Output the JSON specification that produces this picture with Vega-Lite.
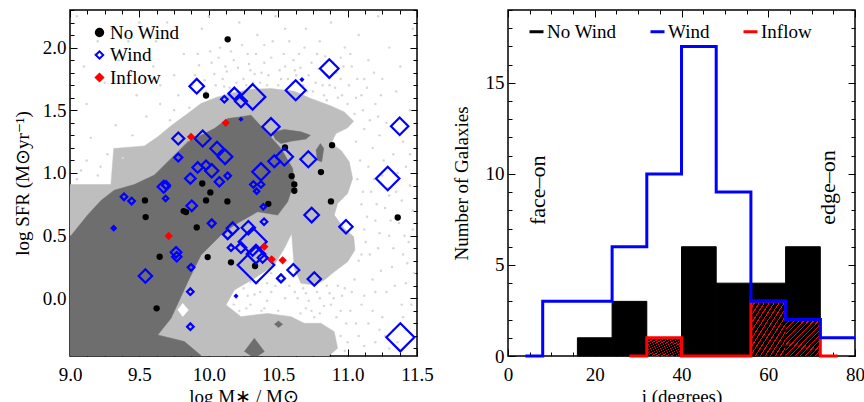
{
  "$schema": "https://vega.github.io/schema/vega-lite/v6.json",
  "autosize": {"type": "pad"},
  "padding": {"left": 12, "top": 8, "right": 0, "bottom": 0},
  "background": "white",
  "spacing": 91,
  "bounds": "flush",
  "resolve": {
    "scale": {"color": "independent", "fill": "independent", "stroke": "independent", "shape": "independent", "size": "independent"},
    "legend": {"color": "independent", "fill": "independent", "stroke": "independent", "shape": "independent"}
  },
  "config": {
    "font": "Liberation Serif",
    "view": {"stroke": "black", "strokeWidth": 1.5},
    "axis": {
      "labelFont": "Liberation Serif", "titleFont": "Liberation Serif",
      "labelFontSize": 19, "titleFontSize": 19, "titleFontWeight": "normal",
      "labelColor": "black", "titleColor": "black", "grid": false, "domain": false,
      "tickColor": "black", "tickWidth": 1, "labelFlush": false, "labelOverlap": false
    },
    "legend": {"labelFont": "Liberation Serif", "labelColor": "black"}
  },
  "datasets": {
    "poly": [
      {"lvl":"light","id":"L","i":1,"x":8.863,"y":0.908},
      {"lvl":"light","id":"L","i":2,"x":9.295,"y":0.908},
      {"lvl":"light","id":"L","i":3,"x":9.315,"y":1.195},
      {"lvl":"light","id":"L","i":4,"x":9.536,"y":1.216},
      {"lvl":"light","id":"L","i":5,"x":9.632,"y":1.288},
      {"lvl":"light","id":"L","i":6,"x":9.728,"y":1.376},
      {"lvl":"light","id":"L","i":7,"x":9.848,"y":1.474},
      {"lvl":"light","id":"L","i":8,"x":9.944,"y":1.554},
      {"lvl":"light","id":"L","i":9,"x":10.064,"y":1.607},
      {"lvl":"light","id":"L","i":10,"x":10.184,"y":1.641},
      {"lvl":"light","id":"L","i":11,"x":10.304,"y":1.668},
      {"lvl":"light","id":"L","i":12,"x":10.448,"y":1.673},
      {"lvl":"light","id":"L","i":13,"x":10.616,"y":1.652},
      {"lvl":"light","id":"L","i":14,"x":10.736,"y":1.594},
      {"lvl":"light","id":"L","i":15,"x":10.880,"y":1.535},
      {"lvl":"light","id":"L","i":16,"x":10.976,"y":1.487},
      {"lvl":"light","id":"L","i":17,"x":11.044,"y":1.413},
      {"lvl":"light","id":"L","i":18,"x":11.000,"y":1.360},
      {"lvl":"light","id":"L","i":19,"x":10.916,"y":1.315},
      {"lvl":"light","id":"L","i":20,"x":10.880,"y":1.235},
      {"lvl":"light","id":"L","i":21,"x":10.952,"y":1.182},
      {"lvl":"light","id":"L","i":22,"x":11.012,"y":1.089},
      {"lvl":"light","id":"L","i":23,"x":11.036,"y":0.956},
      {"lvl":"light","id":"L","i":24,"x":11.000,"y":0.837},
      {"lvl":"light","id":"L","i":25,"x":10.928,"y":0.757},
      {"lvl":"light","id":"L","i":26,"x":10.904,"y":0.664},
      {"lvl":"light","id":"L","i":27,"x":10.976,"y":0.558},
      {"lvl":"light","id":"L","i":28,"x":11.044,"y":0.491},
      {"lvl":"light","id":"L","i":29,"x":11.053,"y":0.385},
      {"lvl":"light","id":"L","i":30,"x":11.000,"y":0.292},
      {"lvl":"light","id":"L","i":31,"x":10.904,"y":0.212},
      {"lvl":"light","id":"L","i":32,"x":10.832,"y":0.146},
      {"lvl":"light","id":"L","i":33,"x":10.760,"y":0.106},
      {"lvl":"light","id":"L","i":34,"x":10.664,"y":0.120},
      {"lvl":"light","id":"L","i":35,"x":10.616,"y":0.239},
      {"lvl":"light","id":"L","i":36,"x":10.597,"y":0.518},
      {"lvl":"light","id":"L","i":37,"x":10.544,"y":0.398},
      {"lvl":"light","id":"L","i":38,"x":10.472,"y":0.266},
      {"lvl":"light","id":"L","i":39,"x":10.328,"y":0.159},
      {"lvl":"light","id":"L","i":40,"x":10.184,"y":0.066},
      {"lvl":"light","id":"L","i":41,"x":10.124,"y":-0.053},
      {"lvl":"light","id":"L","i":42,"x":10.232,"y":-0.146},
      {"lvl":"light","id":"L","i":43,"x":10.424,"y":-0.120},
      {"lvl":"light","id":"L","i":44,"x":10.592,"y":-0.146},
      {"lvl":"light","id":"L","i":45,"x":10.688,"y":-0.199},
      {"lvl":"light","id":"L","i":46,"x":10.808,"y":-0.199},
      {"lvl":"light","id":"L","i":47,"x":10.904,"y":-0.266},
      {"lvl":"light","id":"L","i":48,"x":10.928,"y":-0.398},
      {"lvl":"light","id":"L","i":49,"x":10.868,"y":-0.457},
      {"lvl":"light","id":"L","i":50,"x":10.868,"y":-0.56},
      {"lvl":"light","id":"L","i":51,"x":8.863,"y":-0.56},
      {"lvl":"white","id":"W","i":1,"x":9.776,"y":-0.093},
      {"lvl":"white","id":"W","i":2,"x":9.812,"y":-0.040},
      {"lvl":"white","id":"W","i":3,"x":9.853,"y":-0.093},
      {"lvl":"white","id":"W","i":4,"x":9.812,"y":-0.146},
      {"lvl":"dark","id":"D1","i":1,"x":8.863,"y":0.50},
      {"lvl":"dark","id":"D1","i":2,"x":9.007,"y":0.50},
      {"lvl":"dark","id":"D1","i":3,"x":9.127,"y":0.664},
      {"lvl":"dark","id":"D1","i":4,"x":9.223,"y":0.780},
      {"lvl":"dark","id":"D1","i":5,"x":9.319,"y":0.863},
      {"lvl":"dark","id":"D1","i":6,"x":9.463,"y":0.908},
      {"lvl":"dark","id":"D1","i":7,"x":9.608,"y":0.983},
      {"lvl":"dark","id":"D1","i":8,"x":9.752,"y":1.142},
      {"lvl":"dark","id":"D1","i":9,"x":9.848,"y":1.248},
      {"lvl":"dark","id":"D1","i":10,"x":9.944,"y":1.301},
      {"lvl":"dark","id":"D1","i":11,"x":10.040,"y":1.355},
      {"lvl":"dark","id":"D1","i":12,"x":10.136,"y":1.434},
      {"lvl":"dark","id":"D1","i":13,"x":10.232,"y":1.448},
      {"lvl":"dark","id":"D1","i":14,"x":10.304,"y":1.461},
      {"lvl":"dark","id":"D1","i":15,"x":10.424,"y":1.315},
      {"lvl":"dark","id":"D1","i":16,"x":10.520,"y":1.195},
      {"lvl":"dark","id":"D1","i":17,"x":10.604,"y":1.036},
      {"lvl":"dark","id":"D1","i":18,"x":10.616,"y":0.930},
      {"lvl":"dark","id":"D1","i":19,"x":10.568,"y":0.770},
      {"lvl":"dark","id":"D1","i":20,"x":10.496,"y":0.664},
      {"lvl":"dark","id":"D1","i":21,"x":10.352,"y":0.691},
      {"lvl":"dark","id":"D1","i":22,"x":10.184,"y":0.584},
      {"lvl":"dark","id":"D1","i":23,"x":10.088,"y":0.505},
      {"lvl":"dark","id":"D1","i":24,"x":9.944,"y":0.345},
      {"lvl":"dark","id":"D1","i":25,"x":9.860,"y":0.159},
      {"lvl":"dark","id":"D1","i":26,"x":9.728,"y":-0.159},
      {"lvl":"dark","id":"D1","i":27,"x":9.632,"y":-0.292},
      {"lvl":"dark","id":"D1","i":28,"x":9.824,"y":-0.345},
      {"lvl":"dark","id":"D1","i":29,"x":9.944,"y":-0.457},
      {"lvl":"dark","id":"D1","i":30,"x":9.944,"y":-0.56},
      {"lvl":"dark","id":"D1","i":31,"x":8.863,"y":-0.56},
      {"lvl":"dark","id":"D2","i":1,"x":10.453,"y":1.323},
      {"lvl":"dark","id":"D2","i":2,"x":10.544,"y":1.347},
      {"lvl":"dark","id":"D2","i":3,"x":10.664,"y":1.328},
      {"lvl":"dark","id":"D2","i":4,"x":10.732,"y":1.301},
      {"lvl":"dark","id":"D2","i":5,"x":10.700,"y":1.270},
      {"lvl":"dark","id":"D2","i":6,"x":10.592,"y":1.254},
      {"lvl":"dark","id":"D2","i":7,"x":10.520,"y":1.235},
      {"lvl":"dark","id":"D2","i":8,"x":10.477,"y":1.270},
      {"lvl":"dark","id":"D3","i":1,"x":10.772,"y":1.182},
      {"lvl":"dark","id":"D3","i":2,"x":10.804,"y":1.235},
      {"lvl":"dark","id":"D3","i":3,"x":10.828,"y":1.195},
      {"lvl":"dark","id":"D3","i":4,"x":10.813,"y":1.089},
      {"lvl":"dark","id":"D3","i":5,"x":10.780,"y":1.102},
      {"lvl":"dark","id":"D4","i":1,"x":10.256,"y":-0.425},
      {"lvl":"dark","id":"D4","i":2,"x":10.328,"y":-0.319},
      {"lvl":"dark","id":"D4","i":3,"x":10.400,"y":-0.425},
      {"lvl":"dark","id":"D4","i":4,"x":10.328,"y":-0.478},
      {"lvl":"dark","id":"D5","i":1,"x":10.472,"y":-0.207},
      {"lvl":"dark","id":"D5","i":2,"x":10.501,"y":-0.181},
      {"lvl":"dark","id":"D5","i":3,"x":10.532,"y":-0.207},
      {"lvl":"dark","id":"D5","i":4,"x":10.501,"y":-0.234}
    ],
    "sample": [
      {"x":9.05,"y":2.25},{"x":9.18,"y":1.95},{"x":9.12,"y":1.55},{"x":9.25,"y":1.72},{"x":9.33,"y":1.38},
      {"x":9.42,"y":2.05},{"x":9.48,"y":1.62},{"x":9.55,"y":1.45},{"x":9.38,"y":1.12},{"x":9.22,"y":1.05},
      {"x":9.08,"y":1.02},{"x":9.15,"y":1.28},{"x":9.6,"y":1.85},{"x":9.65,"y":1.55},{"x":9.7,"y":2.2},
      {"x":9.72,"y":1.42},{"x":9.78,"y":1.62},{"x":9.82,"y":1.95},{"x":9.86,"y":1.52},{"x":9.9,"y":1.78},
      {"x":9.95,"y":2.15},{"x":9.98,"y":1.65},{"x":10.02,"y":1.88},{"x":10.05,"y":1.7},{"x":10.08,"y":2.0},
      {"x":10.1,"y":1.75},{"x":10.15,"y":1.68},{"x":10.18,"y":1.9},{"x":10.22,"y":2.2},{"x":10.25,"y":1.75},
      {"x":10.28,"y":1.95},{"x":10.32,"y":1.72},{"x":10.35,"y":2.1},{"x":10.38,"y":1.8},{"x":10.42,"y":1.7},
      {"x":10.45,"y":1.92},{"x":10.48,"y":2.25},{"x":10.52,"y":1.75},{"x":10.55,"y":1.85},{"x":10.58,"y":2.05},
      {"x":10.6,"y":1.72},{"x":10.65,"y":1.95},{"x":10.68,"y":1.7},{"x":10.7,"y":2.15},{"x":10.72,"y":1.78},
      {"x":10.75,"y":1.65},{"x":10.78,"y":1.95},{"x":10.8,"y":2.05},{"x":10.82,"y":1.7},{"x":10.85,"y":1.58},
      {"x":10.88,"y":2.2},{"x":10.9,"y":1.88},{"x":10.93,"y":1.6},{"x":10.95,"y":1.75},{"x":10.98,"y":2.0},
      {"x":11.0,"y":1.55},{"x":11.03,"y":1.85},{"x":11.05,"y":1.47},{"x":11.08,"y":2.1},{"x":11.1,"y":1.62},
      {"x":11.12,"y":1.35},{"x":11.15,"y":1.9},{"x":11.18,"y":1.2},{"x":11.2,"y":1.55},{"x":11.22,"y":2.25},
      {"x":11.25,"y":1.75},{"x":11.28,"y":1.4},{"x":11.3,"y":2.0},{"x":11.33,"y":1.15},{"x":11.35,"y":1.65},
      {"x":11.38,"y":1.85},{"x":11.42,"y":1.05},{"x":11.45,"y":1.5},{"x":11.47,"y":2.15},
      {"x":11.07,"y":0.95},{"x":11.1,"y":0.75},{"x":11.12,"y":0.55},{"x":11.08,"y":0.3},{"x":11.15,"y":1.05},
      {"x":11.17,"y":0.85},{"x":11.2,"y":0.62},{"x":11.22,"y":0.4},{"x":11.18,"y":0.15},{"x":11.25,"y":0.98},
      {"x":11.27,"y":0.72},{"x":11.3,"y":0.5},{"x":11.32,"y":0.25},{"x":11.28,"y":0.05},{"x":11.35,"y":0.85},
      {"x":11.37,"y":0.6},{"x":11.4,"y":0.35},{"x":11.42,"y":0.12},{"x":11.45,"y":0.9},{"x":11.47,"y":0.7},
      {"x":11.44,"y":0.45},{"x":11.48,"y":0.2},{"x":11.1,"y":-0.05},{"x":11.15,"y":-0.2},{"x":11.2,"y":-0.35},
      {"x":11.25,"y":-0.15},{"x":11.3,"y":-0.4},{"x":11.13,"y":0.45},{"x":11.05,"y":0.15},{"x":11.02,"y":-0.1},
      {"x":11.08,"y":-0.3},{"x":11.46,"y":-0.05},{"x":11.33,"y":-0.25},{"x":11.12,"y":0.02},
      {"x":10.62,"y":0.05},{"x":10.68,"y":0.08},{"x":10.72,"y":-0.02},{"x":10.78,"y":0.05},{"x":10.85,"y":0.1},
      {"x":10.9,"y":0.0},{"x":10.95,"y":-0.1},{"x":10.98,"y":0.08},{"x":10.95,"y":-0.3},{"x":10.98,"y":-0.42},
      {"x":10.2,"y":0.0},{"x":10.25,"y":0.08},{"x":10.3,"y":-0.05},{"x":10.35,"y":0.12},{"x":10.4,"y":-0.08},
      {"x":10.45,"y":0.05},{"x":10.5,"y":-0.1},{"x":10.55,"y":0.0},{"x":10.58,"y":0.1},{"x":10.52,"y":0.15},
      {"x":10.45,"y":0.2},{"x":10.3,"y":0.13},{"x":10.22,"y":-0.1},{"x":10.38,"y":-0.1},
      {"x":9.05,"y":0.95},{"x":9.12,"y":1.1},{"x":9.2,"y":0.98},{"x":9.27,"y":1.15},
      {"x":9.1,"y":1.85},{"x":9.3,"y":2.15},{"x":9.52,"y":1.78},{"x":9.62,"y":2.05},{"x":9.75,"y":1.78},
      {"x":9.92,"y":1.95},{"x":10.0,"y":2.25},{"x":10.12,"y":1.85},{"x":10.3,"y":1.82},{"x":10.4,"y":2.02},
      {"x":10.55,"y":2.15},{"x":10.62,"y":1.82},{"x":10.85,"y":1.78},{"x":10.95,"y":1.92},{"x":11.12,"y":1.75},
      {"x":11.22,"y":1.45},{"x":11.4,"y":1.25},{"x":11.3,"y":0.82},{"x":11.4,"y":-0.15},{"x":11.2,"y":0.05},
      {"x":10.7,"y":-0.08},{"x":10.88,"y":-0.05},{"x":10.8,"y":-0.12},{"x":10.28,"y":0.02},{"x":10.42,"y":0.12},
      {"x":9.88,"y":1.70},{"x":9.93,"y":1.86},{"x":9.97,"y":1.74},{"x":10.01,"y":1.97},{"x":10.04,"y":1.79},
      {"x":10.07,"y":1.92},{"x":10.11,"y":1.69},{"x":10.13,"y":1.81},{"x":10.16,"y":1.97},{"x":10.2,"y":1.72},
      {"x":10.21,"y":1.84},{"x":10.24,"y":2.02},{"x":10.27,"y":1.7},{"x":10.29,"y":1.87},{"x":10.33,"y":1.79},
      {"x":10.34,"y":1.95},{"x":10.37,"y":1.72},{"x":10.4,"y":1.88},{"x":10.43,"y":1.78},{"x":10.46,"y":2.05},
      {"x":10.5,"y":1.7},{"x":10.51,"y":1.82},{"x":10.54,"y":1.95},{"x":10.57,"y":1.75},{"x":10.61,"y":1.9},
      {"x":10.63,"y":1.78},{"x":10.66,"y":1.84},{"x":10.69,"y":2.0},{"x":10.71,"y":1.65},{"x":10.74,"y":1.88},
      {"x":10.77,"y":1.72},{"x":10.79,"y":1.83},{"x":10.83,"y":1.62},{"x":10.84,"y":1.93},{"x":10.87,"y":1.7},
      {"x":10.91,"y":1.68},{"x":10.92,"y":1.8},{"x":10.96,"y":1.62},{"x":10.97,"y":1.85},{"x":11.01,"y":1.7},
      {"x":11.02,"y":1.95},{"x":11.06,"y":1.6},{"x":11.07,"y":1.75},{"x":11.11,"y":1.5},{"x":11.14,"y":1.68},
      {"x":11.16,"y":1.42},{"x":11.19,"y":1.8},{"x":11.23,"y":1.3},{"x":11.24,"y":1.62},
      {"x":11.06,"y":1.25},{"x":11.09,"y":1.1},{"x":11.11,"y":0.85},{"x":11.14,"y":0.65},{"x":11.16,"y":0.35},
      {"x":11.19,"y":0.95},{"x":11.21,"y":0.75},{"x":11.23,"y":0.52},{"x":11.24,"y":0.22},{"x":11.26,"y":1.1},
      {"x":11.29,"y":0.88},{"x":11.31,"y":0.62},{"x":11.33,"y":0.4},{"x":11.34,"y":0.1},{"x":11.36,"y":1.0},
      {"x":11.39,"y":0.78},{"x":11.41,"y":0.5},{"x":11.43,"y":0.28},{"x":11.45,"y":1.15},{"x":11.47,"y":0.55},
      {"x":11.39,"y":-0.05},{"x":11.36,"y":-0.35},{"x":11.23,"y":-0.25},{"x":11.18,"y":-0.1},{"x":11.12,"y":-0.38},
      {"x":11.06,"y":-0.2},{"x":11.03,"y":0.05},{"x":11.27,"y":-0.3},{"x":11.42,"y":-0.25},{"x":11.1,"y":0.35},
      {"x":10.64,"y":0.0},{"x":10.7,"y":0.04},{"x":10.74,"y":-0.1},{"x":10.8,"y":0.0},{"x":10.83,"y":-0.06},
      {"x":10.87,"y":0.04},{"x":10.92,"y":-0.15},{"x":10.96,"y":0.02},{"x":10.99,"y":-0.2},{"x":11.0,"y":-0.35},
      {"x":10.93,"y":0.1},{"x":10.66,"y":-0.12},{"x":10.76,"y":-0.15},
      {"x":10.18,"y":-0.05},{"x":10.27,"y":-0.08},{"x":10.33,"y":0.03},{"x":10.42,"y":-0.02},{"x":10.48,"y":0.1},
      {"x":10.37,"y":0.05},
      {"x":9.35,"y":1.9},{"x":9.5,"y":2.2},{"x":9.2,"y":2.05},{"x":9.65,"y":1.7},{"x":9.45,"y":1.3},{"x":9.75,"y":1.5}
    ],
    "galaxies": [
      {"type":"No Wind","x":10.136,"y":2.066},{"type":"No Wind","x":9.980,"y":1.618},
      {"type":"No Wind","x":10.549,"y":1.203},{"type":"No Wind","x":10.888,"y":1.222},
      {"type":"No Wind","x":10.808,"y":1.007},{"type":"No Wind","x":10.597,"y":0.975},
      {"type":"No Wind","x":10.616,"y":0.908},{"type":"No Wind","x":10.616,"y":0.858},
      {"type":"No Wind","x":10.880,"y":0.773},{"type":"No Wind","x":11.361,"y":0.645},
      {"type":"No Wind","x":10.429,"y":0.754},{"type":"No Wind","x":9.953,"y":0.916},
      {"type":"No Wind","x":10.011,"y":0.845},{"type":"No Wind","x":9.980,"y":0.781},
      {"type":"No Wind","x":10.134,"y":0.773},{"type":"No Wind","x":9.540,"y":0.781},
      {"type":"No Wind","x":9.545,"y":0.648},{"type":"No Wind","x":9.819,"y":0.696},
      {"type":"No Wind","x":9.836,"y":0.688},{"type":"No Wind","x":9.913,"y":0.566},
      {"type":"No Wind","x":9.646,"y":0.332},{"type":"No Wind","x":9.992,"y":0.329},
      {"type":"No Wind","x":10.160,"y":0.287},{"type":"No Wind","x":10.333,"y":0.258},
      {"type":"No Wind","x":9.624,"y":-0.080},
      {"type":"Wind","x":9.913,"y":1.692,"ew":7.3},{"type":"Wind","x":10.868,"y":1.833,"ew":9.3},
      {"type":"Wind","x":11.375,"y":1.373,"ew":8.7},{"type":"Wind","x":11.289,"y":0.956,"ew":11.7},
      {"type":"Wind","x":11.380,"y":-0.311,"ew":14},{"type":"Wind","x":10.626,"y":1.660,"ew":10},
      {"type":"Wind","x":10.316,"y":1.607,"ew":12.7},{"type":"Wind","x":10.184,"y":1.633,"ew":6},
      {"type":"Wind","x":10.232,"y":1.572,"ew":6},{"type":"Wind","x":10.112,"y":1.588,"ew":3.3},
      {"type":"Wind","x":10.448,"y":1.368,"ew":8.7},{"type":"Wind","x":9.780,"y":1.275,"ew":6},
      {"type":"Wind","x":9.956,"y":1.275,"ew":8},{"type":"Wind","x":10.059,"y":1.195,"ew":6.7},
      {"type":"Wind","x":10.117,"y":1.129,"ew":7.3},{"type":"Wind","x":9.780,"y":1.123,"ew":4},
      {"type":"Wind","x":9.920,"y":1.044,"ew":5.3},{"type":"Wind","x":9.980,"y":1.062,"ew":4.7},
      {"type":"Wind","x":10.021,"y":1.017,"ew":6.7},{"type":"Wind","x":9.867,"y":0.956,"ew":5.3},
      {"type":"Wind","x":10.076,"y":0.930,"ew":4.7},{"type":"Wind","x":10.136,"y":0.977,"ew":3.3},
      {"type":"Wind","x":10.376,"y":1.009,"ew":8.7},{"type":"Wind","x":10.472,"y":1.094,"ew":6},
      {"type":"Wind","x":10.544,"y":1.129,"ew":8.7},{"type":"Wind","x":10.717,"y":1.110,"ew":8},
      {"type":"Wind","x":9.675,"y":0.890,"ew":6},{"type":"Wind","x":9.692,"y":0.903,"ew":4},
      {"type":"Wind","x":9.689,"y":0.797,"ew":2.7},{"type":"Wind","x":9.389,"y":0.810,"ew":3.3},
      {"type":"Wind","x":9.444,"y":0.776,"ew":3.3},{"type":"Wind","x":9.877,"y":0.738,"ew":5.3},
      {"type":"Wind","x":10.321,"y":0.908,"ew":3.3},{"type":"Wind","x":10.376,"y":0.908,"ew":3.3},
      {"type":"Wind","x":10.345,"y":0.855,"ew":2.7},{"type":"Wind","x":10.393,"y":0.730,"ew":2.7},
      {"type":"Wind","x":10.398,"y":0.611,"ew":3.3},{"type":"Wind","x":10.021,"y":0.598,"ew":4},
      {"type":"Wind","x":10.741,"y":0.664,"ew":7.3},{"type":"Wind","x":10.988,"y":0.571,"ew":6.7},
      {"type":"Wind","x":9.315,"y":0.560,"ew":2},{"type":"Wind","x":10.172,"y":0.558,"ew":6},
      {"type":"Wind","x":10.136,"y":0.510,"ew":4.7},{"type":"Wind","x":10.285,"y":0.563,"ew":6.7},
      {"type":"Wind","x":10.160,"y":0.404,"ew":3.3},{"type":"Wind","x":10.232,"y":0.404,"ew":5.3},
      {"type":"Wind","x":10.316,"y":0.452,"ew":14},{"type":"Wind","x":10.340,"y":0.353,"ew":9.3},
      {"type":"Wind","x":10.388,"y":0.324,"ew":5},{"type":"Wind","x":10.340,"y":0.266,"ew":18.3},
      {"type":"Wind","x":10.609,"y":0.226,"ew":6},{"type":"Wind","x":10.520,"y":0.159,"ew":4},
      {"type":"Wind","x":10.760,"y":0.154,"ew":6.7},{"type":"Wind","x":9.764,"y":0.367,"ew":5.3},
      {"type":"Wind","x":9.769,"y":0.332,"ew":4.7},{"type":"Wind","x":9.543,"y":0.178,"ew":6.7},
      {"type":"Wind","x":9.872,"y":0.247,"ew":3.3},{"type":"Wind","x":9.867,"y":0.053,"ew":3.3},
      {"type":"Wind","x":9.867,"y":-0.226,"ew":3.3},{"type":"Wind","x":10.232,"y":1.429,"ew":1},
      {"type":"Wind","x":10.196,"y":0.019,"ew":1},{"type":"Wind","x":10.671,"y":1.745,"ew":1},
      {"type":"Inflow","x":9.872,"y":1.288},{"type":"Inflow","x":10.122,"y":1.400},
      {"type":"Inflow","x":9.711,"y":0.497},{"type":"Inflow","x":10.400,"y":0.412},
      {"type":"Inflow","x":10.453,"y":0.311},{"type":"Inflow","x":10.532,"y":0.303}
    ],
    "nowind_hist": [
      {"b0":16,"b1":24,"n":1},{"b0":24,"b1":32,"n":3},{"b0":40,"b1":48,"n":6},
      {"b0":48,"b1":56,"n":4},{"b0":56,"b1":64,"n":4},{"b0":64,"b1":72,"n":6}
    ],
    "inflow_hist": [
      {"b0":32,"b1":40,"n":1},{"b0":56,"b1":64,"n":3},{"b0":64,"b1":72,"n":2}
    ],
    "steps": [
      {"series":"Inflow","k":1,"x":28,"y":0},{"series":"Inflow","k":2,"x":32,"y":1},
      {"series":"Inflow","k":3,"x":40,"y":0},{"series":"Inflow","k":4,"x":56,"y":3},
      {"series":"Inflow","k":5,"x":64,"y":2},{"series":"Inflow","k":6,"x":72,"y":0},
      {"series":"Inflow","k":7,"x":76,"y":0},
      {"series":"Wind","k":1,"x":4,"y":0},{"series":"Wind","k":2,"x":8,"y":3},
      {"series":"Wind","k":3,"x":16,"y":3},{"series":"Wind","k":4,"x":24,"y":6},
      {"series":"Wind","k":5,"x":32,"y":10},{"series":"Wind","k":6,"x":40,"y":17},
      {"series":"Wind","k":7,"x":48,"y":9},{"series":"Wind","k":8,"x":56,"y":3},
      {"series":"Wind","k":9,"x":64,"y":2},{"series":"Wind","k":10,"x":72,"y":1},
      {"series":"Wind","k":11,"x":80,"y":1}
    ],
    "notes": [
      {"t":"face–on","x":6.9,"y":9.1},
      {"t":"edge–on","x":73.8,"y":9.25}
    ]
  },
  "hconcat": [
    {
      "width": 347,
      "height": 346,
      "resolve": {"axis": {"x": "independent", "y": "independent"}},
      "layer": [
        {
          "data": {"name": "poly"},
          "transform": [{"filter": "datum.lvl === 'light'"}],
          "mark": {"type": "line", "clip": true, "color": "#bebebe", "fill": "#bebebe", "strokeWidth": 0.5},
          "encoding": {
            "x": {"field": "x", "type": "quantitative",
              "scale": {"domain": [9, 11.5], "nice": false, "zero": false},
              "axis": {"orient": "bottom", "values": [9, 9.5, 10, 10.5, 11, 11.5], "format": ".1f", "ticks": false, "labelPadding": 9, "title": "log M∗ / M⊙", "titlePadding": 3}},
            "y": {"field": "y", "type": "quantitative",
              "scale": {"domain": [-0.46, 2.3], "nice": false, "zero": false},
              "axis": {"orient": "left", "values": [0, 0.5, 1, 1.5, 2], "format": ".1f", "ticks": false, "labelPadding": 4, "title": "log SFR (M⊙yr⁻¹)", "titlePadding": 10}},
            "detail": {"field": "id"},
            "order": {"field": "i", "type": "quantitative"}
          }
        },
        {
          "data": {"name": "poly"},
          "transform": [{"filter": "datum.lvl === 'white'"}],
          "mark": {"type": "line", "clip": true, "color": "#ffffff", "fill": "#ffffff", "strokeWidth": 0.5},
          "encoding": {
            "x": {"field": "x", "type": "quantitative", "scale": {"domain": [9, 11.5], "nice": false, "zero": false}, "axis": null},
            "y": {"field": "y", "type": "quantitative", "scale": {"domain": [-0.46, 2.3], "nice": false, "zero": false}, "axis": null},
            "detail": {"field": "id"},
            "order": {"field": "i", "type": "quantitative"}
          }
        },
        {
          "data": {"name": "poly"},
          "transform": [{"filter": "datum.lvl === 'dark'"}],
          "mark": {"type": "line", "clip": true, "color": "#6e6e6e", "fill": "#6e6e6e", "strokeWidth": 0.5},
          "encoding": {
            "x": {"field": "x", "type": "quantitative",
              "scale": {"domain": [9, 11.5], "nice": false, "zero": false},
              "axis": {"orient": "bottom", "labels": false, "title": null,
                "values": [9, 9.125, 9.25, 9.375, 9.5, 9.625, 9.75, 9.875, 10, 10.125, 10.25, 10.375, 10.5, 10.625, 10.75, 10.875, 11, 11.125, 11.25, 11.375, 11.5],
                "tickSize": {"condition": {"test": "abs(datum.value*2-round(datum.value*2))<0.000001", "value": -7}, "value": -4}}},
            "y": {"field": "y", "type": "quantitative",
              "scale": {"domain": [-0.46, 2.3], "nice": false, "zero": false},
              "axis": {"orient": "left", "labels": false, "title": null,
                "values": [-0.4, -0.3, -0.2, -0.1, 0, 0.1, 0.2, 0.3, 0.4, 0.5, 0.6, 0.7, 0.8, 0.9, 1, 1.1, 1.2, 1.3, 1.4, 1.5, 1.6, 1.7, 1.8, 1.9, 2, 2.1, 2.2, 2.3],
                "tickSize": {"condition": {"test": "abs(datum.value*2-round(datum.value*2))<0.000001", "value": -7}, "value": -4}}},
            "detail": {"field": "id"},
            "order": {"field": "i", "type": "quantitative"}
          }
        },
        {
          "data": {"name": "sample"},
          "mark": {"type": "circle", "color": "#d6d6d6", "size": 6, "opacity": 1},
          "encoding": {
            "x": {"field": "x", "type": "quantitative",
              "scale": {"domain": [9, 11.5], "nice": false, "zero": false},
              "axis": {"orient": "top", "labels": false, "title": null,
                "values": [9, 9.125, 9.25, 9.375, 9.5, 9.625, 9.75, 9.875, 10, 10.125, 10.25, 10.375, 10.5, 10.625, 10.75, 10.875, 11, 11.125, 11.25, 11.375, 11.5],
                "tickSize": {"condition": {"test": "abs(datum.value*2-round(datum.value*2))<0.000001", "value": -7}, "value": -4}}},
            "y": {"field": "y", "type": "quantitative",
              "scale": {"domain": [-0.46, 2.3], "nice": false, "zero": false},
              "axis": {"orient": "right", "labels": false, "title": null,
                "values": [-0.4, -0.3, -0.2, -0.1, 0, 0.1, 0.2, 0.3, 0.4, 0.5, 0.6, 0.7, 0.8, 0.9, 1, 1.1, 1.2, 1.3, 1.4, 1.5, 1.6, 1.7, 1.8, 1.9, 2, 2.1, 2.2, 2.3],
                "tickSize": {"condition": {"test": "abs(datum.value*2-round(datum.value*2))<0.000001", "value": -7}, "value": -4}}}
          }
        },
        {
          "data": {"name": "galaxies"},
          "transform": [{"filter": "datum.type === 'No Wind'"}],
          "mark": {"type": "point", "size": 40, "strokeWidth": 0, "opacity": 1},
          "encoding": {
            "x": {"field": "x", "type": "quantitative", "scale": {"domain": [9, 11.5], "nice": false, "zero": false}, "axis": null},
            "y": {"field": "y", "type": "quantitative", "scale": {"domain": [-0.46, 2.3], "nice": false, "zero": false}, "axis": null},
            "shape": {"field": "type", "type": "nominal", "scale": {"domain": ["No Wind", "Wind", "Inflow"], "range": ["circle", "diamond", "diamond"]},
              "legend": {"orient": "none", "legendX": 20, "legendY": 13, "title": null, "labelFontSize": 19, "symbolSize": 55, "symbolStrokeWidth": 2, "rowPadding": 2.5, "labelOffset": 1, "padding": 0}},
            "fill": {"field": "type", "type": "nominal", "scale": {"domain": ["No Wind", "Wind", "Inflow"], "range": ["black", "transparent", "red"]},
              "legend": {"orient": "none", "legendX": 20, "legendY": 13, "title": null, "labelFontSize": 19, "symbolSize": 55, "symbolStrokeWidth": 2, "rowPadding": 2.5, "labelOffset": 1, "padding": 0}},
            "stroke": {"field": "type", "type": "nominal", "scale": {"domain": ["No Wind", "Wind", "Inflow"], "range": ["black", "blue", "red"]},
              "legend": {"orient": "none", "legendX": 20, "legendY": 13, "title": null, "labelFontSize": 19, "symbolSize": 55, "symbolStrokeWidth": 2, "rowPadding": 2.5, "labelOffset": 1, "padding": 0}}
          }
        },
        {
          "data": {"name": "galaxies"},
          "transform": [{"filter": "datum.type === 'Wind'"}],
          "mark": {"type": "point", "strokeWidth": 2.2, "opacity": 1},
          "encoding": {
            "x": {"field": "x", "type": "quantitative", "scale": {"domain": [9, 11.5], "nice": false, "zero": false}, "axis": null},
            "y": {"field": "y", "type": "quantitative", "scale": {"domain": [-0.46, 2.3], "nice": false, "zero": false}, "axis": null},
            "size": {"field": "ew", "type": "quantitative", "scale": {"type": "pow", "exponent": 2, "domain": [0, 20], "range": [0, 1600]}, "legend": null},
            "shape": {"field": "type", "type": "nominal", "scale": {"domain": ["No Wind", "Wind", "Inflow"], "range": ["circle", "diamond", "diamond"]}},
            "fill": {"field": "type", "type": "nominal", "scale": {"domain": ["No Wind", "Wind", "Inflow"], "range": ["black", "transparent", "red"]}},
            "stroke": {"field": "type", "type": "nominal", "scale": {"domain": ["No Wind", "Wind", "Inflow"], "range": ["black", "blue", "red"]}}
          }
        },
        {
          "data": {"name": "galaxies"},
          "transform": [{"filter": "datum.type === 'Inflow'"}],
          "mark": {"type": "point", "size": 70, "strokeWidth": 0, "opacity": 1},
          "encoding": {
            "x": {"field": "x", "type": "quantitative", "scale": {"domain": [9, 11.5], "nice": false, "zero": false}, "axis": null},
            "y": {"field": "y", "type": "quantitative", "scale": {"domain": [-0.46, 2.3], "nice": false, "zero": false}, "axis": null},
            "shape": {"field": "type", "type": "nominal", "scale": {"domain": ["No Wind", "Wind", "Inflow"], "range": ["circle", "diamond", "diamond"]}},
            "fill": {"field": "type", "type": "nominal", "scale": {"domain": ["No Wind", "Wind", "Inflow"], "range": ["black", "transparent", "red"]}},
            "stroke": {"field": "type", "type": "nominal", "scale": {"domain": ["No Wind", "Wind", "Inflow"], "range": ["black", "blue", "red"]}}
          }
        }
      ]
    },
    {
      "width": 347,
      "height": 346,
      "resolve": {"axis": {"x": "independent", "y": "independent"}},
      "layer": [
        {
          "data": {"name": "nowind_hist"},
          "mark": {"type": "rect", "color": "black", "stroke": "black", "strokeWidth": 1},
          "encoding": {
            "x": {"field": "b0", "type": "quantitative", "scale": {"domain": [0, 80], "nice": false},
              "axis": {"orient": "bottom", "values": [0, 20, 40, 60, 80], "ticks": false, "labelPadding": 9, "title": "i (degrees)", "titlePadding": 3}},
            "x2": {"field": "b1"},
            "y": {"field": "n", "type": "quantitative", "scale": {"domain": [0, 19], "nice": false},
              "axis": {"orient": "left", "values": [0, 5, 10, 15], "ticks": false, "labelPadding": 4, "title": "Number of Galaxies", "titlePadding": 14}},
            "y2": {"datum": 0}
          }
        },
        {
          "data": {"name": "inflow_hist"},
          "mark": {"type": "rect", "strokeWidth": 0,
            "fill": {"gradient": "linear", "x1": 0, "y1": 0, "x2": 1, "y2": 1, "stops": [
              {"offset": 0, "color": "#000000"}, {"offset": 0.055, "color": "#000000"}, {"offset": 0.055, "color": "#ff0000"}, {"offset": 0.0714, "color": "#ff0000"},
              {"offset": 0.0714, "color": "#000000"}, {"offset": 0.126, "color": "#000000"}, {"offset": 0.126, "color": "#ff0000"}, {"offset": 0.1429, "color": "#ff0000"},
              {"offset": 0.1429, "color": "#000000"}, {"offset": 0.198, "color": "#000000"}, {"offset": 0.198, "color": "#ff0000"}, {"offset": 0.2143, "color": "#ff0000"},
              {"offset": 0.2143, "color": "#000000"}, {"offset": 0.269, "color": "#000000"}, {"offset": 0.269, "color": "#ff0000"}, {"offset": 0.2857, "color": "#ff0000"},
              {"offset": 0.2857, "color": "#000000"}, {"offset": 0.341, "color": "#000000"}, {"offset": 0.341, "color": "#ff0000"}, {"offset": 0.3571, "color": "#ff0000"},
              {"offset": 0.3571, "color": "#000000"}, {"offset": 0.412, "color": "#000000"}, {"offset": 0.412, "color": "#ff0000"}, {"offset": 0.4286, "color": "#ff0000"},
              {"offset": 0.4286, "color": "#000000"}, {"offset": 0.484, "color": "#000000"}, {"offset": 0.484, "color": "#ff0000"}, {"offset": 0.5, "color": "#ff0000"},
              {"offset": 0.5, "color": "#000000"}, {"offset": 0.555, "color": "#000000"}, {"offset": 0.555, "color": "#ff0000"}, {"offset": 0.5714, "color": "#ff0000"},
              {"offset": 0.5714, "color": "#000000"}, {"offset": 0.626, "color": "#000000"}, {"offset": 0.626, "color": "#ff0000"}, {"offset": 0.6429, "color": "#ff0000"},
              {"offset": 0.6429, "color": "#000000"}, {"offset": 0.698, "color": "#000000"}, {"offset": 0.698, "color": "#ff0000"}, {"offset": 0.7143, "color": "#ff0000"},
              {"offset": 0.7143, "color": "#000000"}, {"offset": 0.769, "color": "#000000"}, {"offset": 0.769, "color": "#ff0000"}, {"offset": 0.7857, "color": "#ff0000"},
              {"offset": 0.7857, "color": "#000000"}, {"offset": 0.841, "color": "#000000"}, {"offset": 0.841, "color": "#ff0000"}, {"offset": 0.8571, "color": "#ff0000"},
              {"offset": 0.8571, "color": "#000000"}, {"offset": 0.912, "color": "#000000"}, {"offset": 0.912, "color": "#ff0000"}, {"offset": 0.9286, "color": "#ff0000"},
              {"offset": 0.9286, "color": "#000000"}, {"offset": 0.984, "color": "#000000"}, {"offset": 0.984, "color": "#ff0000"}, {"offset": 1, "color": "#ff0000"}
            ]}},
          "encoding": {
            "x": {"field": "b0", "type": "quantitative", "scale": {"domain": [0, 80], "nice": false},
              "axis": {"orient": "bottom", "labels": false, "title": null,
                "values": [0, 5, 10, 15, 20, 25, 30, 35, 40, 45, 50, 55, 60, 65, 70, 75, 80],
                "tickSize": {"condition": {"test": "datum.value % 20 === 0", "value": -7}, "value": -4}}},
            "x2": {"field": "b1"},
            "y": {"field": "n", "type": "quantitative", "scale": {"domain": [0, 19], "nice": false},
              "axis": {"orient": "left", "labels": false, "title": null,
                "values": [0, 1, 2, 3, 4, 5, 6, 7, 8, 9, 10, 11, 12, 13, 14, 15, 16, 17, 18, 19],
                "tickSize": {"condition": {"test": "datum.value % 5 === 0", "value": -7}, "value": -4}}},
            "y2": {"datum": 0}
          }
        },
        {
          "data": {"name": "steps"},
          "mark": {"type": "line", "interpolate": "step-after", "strokeJoin": "miter", "strokeWidth": 3},
          "encoding": {
            "x": {"field": "x", "type": "quantitative", "scale": {"domain": [0, 80], "nice": false},
              "axis": {"orient": "top", "labels": false, "title": null,
                "values": [0, 5, 10, 15, 20, 25, 30, 35, 40, 45, 50, 55, 60, 65, 70, 75, 80],
                "tickSize": {"condition": {"test": "datum.value % 20 === 0", "value": -7}, "value": -4}}},
            "y": {"field": "y", "type": "quantitative", "scale": {"domain": [0, 19], "nice": false},
              "axis": {"orient": "right", "labels": false, "title": null,
                "values": [0, 1, 2, 3, 4, 5, 6, 7, 8, 9, 10, 11, 12, 13, 14, 15, 16, 17, 18, 19],
                "tickSize": {"condition": {"test": "datum.value % 5 === 0", "value": -7}, "value": -4}}},
            "color": {"field": "series", "type": "nominal",
              "scale": {"domain": ["No Wind", "Wind", "Inflow"], "range": ["black", "blue", "red"]},
              "legend": {"orient": "none", "legendX": 19, "legendY": 12, "direction": "horizontal", "title": null, "symbolType": "stroke", "symbolSize": 196, "symbolStrokeWidth": 3, "labelOffset": 1, "columnPadding": 27, "labelFontSize": 19, "padding": 0}},
            "order": {"field": "k", "type": "quantitative"}
          }
        },
        {
          "data": {"name": "notes"},
          "mark": {"type": "text", "angle": 270, "fontSize": 22, "font": "Liberation Serif", "align": "center", "baseline": "middle", "color": "black"},
          "encoding": {
            "x": {"field": "x", "type": "quantitative", "scale": {"domain": [0, 80], "nice": false}, "axis": null},
            "y": {"field": "y", "type": "quantitative", "scale": {"domain": [0, 19], "nice": false}, "axis": null},
            "text": {"field": "t"}
          }
        }
      ]
    }
  ]
}
